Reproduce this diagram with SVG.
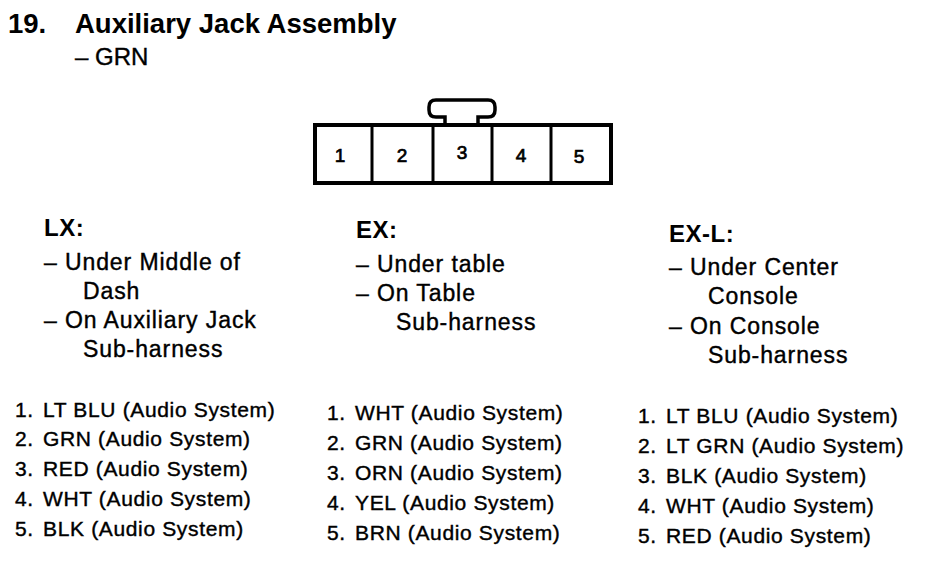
<svg xmlns="http://www.w3.org/2000/svg" width="944" height="582" viewBox="0 0 944 582">
<style>
text{font-family:"Liberation Sans",Arial,sans-serif;fill:#000}
.title{font-size:27.5px;font-weight:bold}
.sub{font-size:24px;stroke:#000;stroke-width:0.4}
.hdr{font-size:24px;font-weight:bold;letter-spacing:0.5px}
.loc{font-size:23px;letter-spacing:0.9px;stroke:#000;stroke-width:0.4}
.li{font-size:21px;letter-spacing:0.65px;stroke:#000;stroke-width:0.4}
.pin{font-size:19px;text-anchor:middle;stroke:#000;stroke-width:0.7}
.box{fill:#fff;stroke:#000;stroke-width:4}
.div{stroke:#000;stroke-width:3}
.tab{fill:#fff;stroke:#000;stroke-width:3.5}
</style>
<rect width="944" height="582" fill="#fff"/>
<g id="title">
<text class="title" x="8" y="33">19.</text>
<text class="title" x="75" y="33">Auxiliary Jack Assembly</text>
<text class="sub" x="75" y="65">– GRN</text>
</g>
<g id="connector">
<path class="tab" d="M445,125 V117 H436 Q429,117 429,110 V107 Q429,100 436,100 H488 Q495,100 495,107 V110 Q495,117 488,117 H478 V125"/>
<rect class="box" x="315" y="125" width="296" height="58"/>
<line class="div" x1="372" y1="125" x2="372" y2="183"/>
<line class="div" x1="433" y1="125" x2="433" y2="183"/>
<line class="div" x1="492" y1="125" x2="492" y2="183"/>
<line class="div" x1="551" y1="125" x2="551" y2="183"/>
<text class="pin" x="340" y="162">1</text>
<text class="pin" x="402" y="162">2</text>
<text class="pin" x="462" y="159">3</text>
<text class="pin" x="521" y="162">4</text>
<text class="pin" x="579" y="163">5</text>
</g>
<g id="lx">
<text class="hdr" x="44" y="236">LX:</text>
<text class="loc" x="44" y="270">– Under Middle of</text>
<text class="loc" x="83" y="299">Dash</text>
<text class="loc" x="44" y="328">– On Auxiliary Jack</text>
<text class="loc" x="83" y="357">Sub-harness</text>
<text class="li" x="15" y="417">1.</text><text class="li" x="43" y="417">LT BLU (Audio System)</text>
<text class="li" x="15" y="446">2.</text><text class="li" x="43" y="446">GRN (Audio System)</text>
<text class="li" x="15" y="476">3.</text><text class="li" x="43" y="476">RED (Audio System)</text>
<text class="li" x="15" y="506">4.</text><text class="li" x="43" y="506">WHT (Audio System)</text>
<text class="li" x="15" y="536">5.</text><text class="li" x="43" y="536">BLK (Audio System)</text>
</g>
<g id="ex">
<text class="hdr" x="356" y="238">EX:</text>
<text class="loc" x="356" y="272">– Under table</text>
<text class="loc" x="356" y="301">– On Table</text>
<text class="loc" x="396" y="330">Sub-harness</text>
<text class="li" x="327" y="420">1.</text><text class="li" x="355" y="420">WHT (Audio System)</text>
<text class="li" x="327" y="450">2.</text><text class="li" x="355" y="450">GRN (Audio System)</text>
<text class="li" x="327" y="480">3.</text><text class="li" x="355" y="480">ORN (Audio System)</text>
<text class="li" x="327" y="510">4.</text><text class="li" x="355" y="510">YEL (Audio System)</text>
<text class="li" x="327" y="540">5.</text><text class="li" x="355" y="540">BRN (Audio System)</text>
</g>
<g id="exl">
<text class="hdr" x="669" y="242">EX-L:</text>
<text class="loc" x="669" y="275">– Under Center</text>
<text class="loc" x="708" y="304">Console</text>
<text class="loc" x="669" y="334">– On Console</text>
<text class="loc" x="708" y="363">Sub-harness</text>
<text class="li" x="638" y="423">1.</text><text class="li" x="666" y="423">LT BLU (Audio System)</text>
<text class="li" x="638" y="453">2.</text><text class="li" x="666" y="453">LT GRN (Audio System)</text>
<text class="li" x="638" y="483">3.</text><text class="li" x="666" y="483">BLK (Audio System)</text>
<text class="li" x="638" y="513">4.</text><text class="li" x="666" y="513">WHT (Audio System)</text>
<text class="li" x="638" y="543">5.</text><text class="li" x="666" y="543">RED (Audio System)</text>
</g>
<g id="connectors"></g>
</svg>
